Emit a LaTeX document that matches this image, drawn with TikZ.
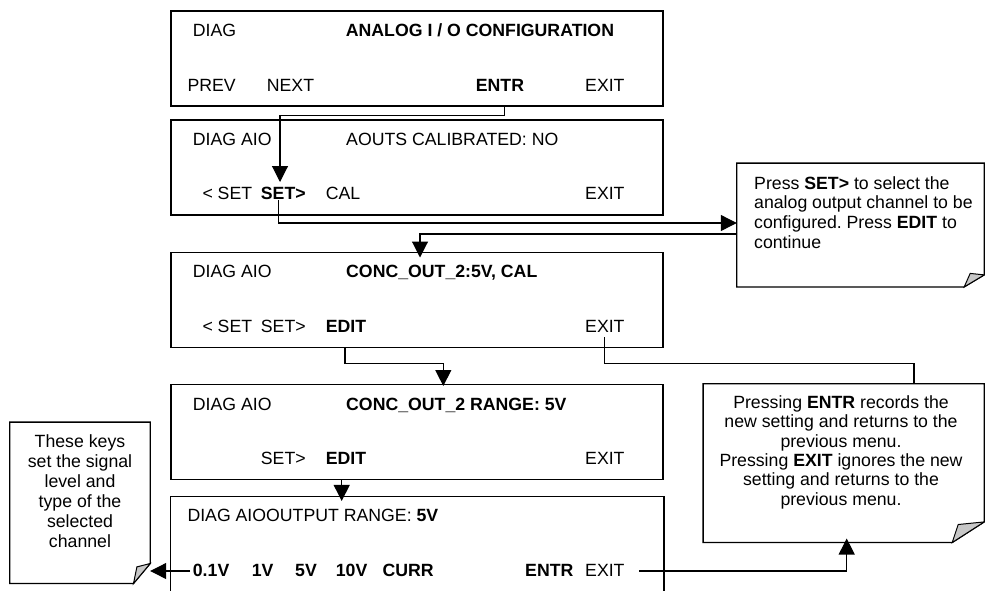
\documentclass[tikz,border=0pt]{standalone}
\usepackage{fontspec}
\setmainfont{Liberation Sans}
\usetikzlibrary{arrows.meta}
\frenchspacing
\begin{document}
\begin{tikzpicture}[x=1pt,y=-1pt,
  screen/.style={draw=black, line width=1.5pt, minimum width=492pt, minimum height=95pt, inner sep=0pt},
  lbl/.style={anchor=base west, inner sep=0pt, font=\fontsize{17.7}{20}\selectfont},
  conn/.style={draw=black, line width=1.1pt},
  arr/.style={conn, -{Triangle[length=16pt,width=16pt]}},
  note/.style={draw=black, line width=1.3pt, fill=white},
  curl/.style={draw=black, line width=1pt, fill=black!22},
  ntext/.style={inner sep=0pt}
]
\useasboundingbox (0,0) rectangle (985,590);

% ---- screens ----
\node[screen] (b1) at (417,58.5) {};
\node[screen] (b2) at (417,167.5) {};
\node[screen] (b3) at (417,300) {};
\node[screen] (b4) at (417,432) {};
\node[screen, draw=none] (b5) at (417,544.5) {};
\draw[line width=1.5pt] (b5.south west) -- (b5.north west) -- (b5.north east) -- (b5.south east);

% box 1
\node[lbl] (a1) at (192.7,36) {DIAG};
\node[lbl] (a2) at (345.7,36) {\textbf{ANALOG I / O CONFIGURATION}};
\node[lbl] (a3) at (187.3,91) {PREV};
\node[lbl] (a4) at (266.7,91) {NEXT};
\node[lbl] (a5) at (475.7,91) {\textbf{ENTR}};
\node[lbl] (a6) at (585,91) {EXIT};
% box 2
\node[lbl] (p1) at (192.7,145) {DIAG AIO};
\node[lbl] (p2) at (346,145) {AOUTS CALIBRATED: NO};
\node[lbl] (p3) at (202.3,199.5) {< SET};
\node[lbl] (p4) at (260.7,199.5) {\textbf{SET>}};
\node[lbl] (p5) at (325.7,199.5) {CAL};
\node[lbl] (p6) at (585,199.5) {EXIT};
% box 3
\node[lbl] (q1) at (192.7,277.5) {DIAG AIO};
\node[lbl] (q2) at (346,277.5) {\textbf{CONC\_OUT\_2:5V, CAL}};
\node[lbl] (q3) at (202.3,332.5) {< SET};
\node[lbl] (q4) at (260.7,332.5) {SET>};
\node[lbl] (q5) at (325.7,332.5) {\textbf{EDIT}};
\node[lbl] (q6) at (585,332.5) {EXIT};
% box 4
\node[lbl] (r1) at (192.7,410.5) {DIAG AIO};
\node[lbl] (r2) at (346,410.5) {\textbf{CONC\_OUT\_2 RANGE: 5V}};
\node[lbl] (r4) at (260.7,464.5) {SET>};
\node[lbl] (r5) at (325.7,464.5) {\textbf{EDIT}};
\node[lbl] (r6) at (585,464.5) {EXIT};
% box 5
\node[lbl] (s1) at (187.3,521.7) {DIAG AIOOUTPUT RANGE: \textbf{5V}};
\node[lbl] (s2) at (192.7,576.7) {\textbf{0.1V}};
\node[lbl] (s3) at (251.7,576.7) {\textbf{1V}};
\node[lbl] (s4) at (295,576.7) {\textbf{5V}};
\node[lbl] (s5) at (335.7,576.7) {\textbf{10V}};
\node[lbl] (s6) at (382.3,576.7) {\textbf{CURR}};
\node[lbl] (s7) at (525,576.7) {\textbf{ENTR}};
\node[lbl] (s8) at (585,576.7) {EXIT};

% ---- callouts ----
\node[inner sep=0pt, minimum width=247pt, minimum height=123.4pt] (c1) at (860.5,225) {};
\draw[note] (c1.north west) -- (c1.north east) -- ([yshift=12pt]c1.south east)
  -- ([xshift=-20pt]c1.south east) -- (c1.south west) -- cycle;
\draw[curl] ([xshift=-20pt]c1.south east) -- ([xshift=-14pt,yshift=13.5pt]c1.south east)
  -- ([yshift=12pt]c1.south east) -- cycle;
\node[ntext, align=left, anchor=north west, font=\fontsize{17.7}{19.6}\selectfont] (n1) at (754,176.3)
  {Press \textbf{SET>} to select the\\analog output channel to be\\configured. Press \textbf{EDIT} to\\continue};

\node[inner sep=0pt, minimum width=280.7pt, minimum height=158.3pt] (c2) at (843.65,463.15) {};
\draw[note] (c2.north west) -- (c2.north east) -- ([yshift=20.6pt]c2.south east)
  -- ([xshift=-32pt]c2.south east) -- (c2.south west) -- cycle;
\draw[curl] ([xshift=-32pt]c2.south east) -- ([xshift=-26pt,yshift=18pt]c2.south east)
  -- ([yshift=20.6pt]c2.south east) -- cycle;
\node[ntext, align=center, anchor=north, font=\fontsize{17.7}{19.3}\selectfont] (n2) at (841,395.6)
  {Pressing \textbf{ENTR} records the\\new setting and returns to the\\previous menu.\\Pressing \textbf{EXIT} ignores the new\\setting and returns to the\\previous menu.};

\node[inner sep=0pt, minimum width=140pt, minimum height=161pt] (c3) at (80,502.8) {};
\draw[note] (c3.north west) -- (c3.north east) -- ([yshift=20pt]c3.south east)
  -- ([xshift=-16.7pt]c3.south east) -- (c3.south west) -- cycle;
\draw[curl] ([xshift=-16.7pt]c3.south east) -- ([xshift=-13.3pt,yshift=16.6pt]c3.south east)
  -- ([yshift=20pt]c3.south east) -- cycle;
\node[ntext, align=center, anchor=north, font=\fontsize{17.7}{19.9}\selectfont] (n3) at (80,434.6)
  {These keys\\set the signal\\level and\\type of the\\selected\\channel};

% ---- connectors ----
\draw[arr] ([xshift=87.3pt]b1.south) |- (280,115.3) -- (280,182);
\draw[arr] (278.3,200) |- (c1.west |- 0,223);
\draw[arr] (c1.west |- 0,234) -| (420,257.5);
\draw[arr] ([xshift=-72pt]b3.south) |- (443.3,363.3) -- (443.3,386);
\draw[conn] (604.3,337) |- (914,363.3) -- (914,0 |- c2.north);
\draw[arr] ([xshift=-75.3pt]b4.south) -- ([xshift=-75.3pt,yshift=-4.7pt]b5.north);
\draw[arr] (190,571) -- (c3.east |- 0,571);
\draw[arr] (639,571) -| ([yshift=4pt]846.7,0 |- c2.south);
\end{tikzpicture}
\end{document}
